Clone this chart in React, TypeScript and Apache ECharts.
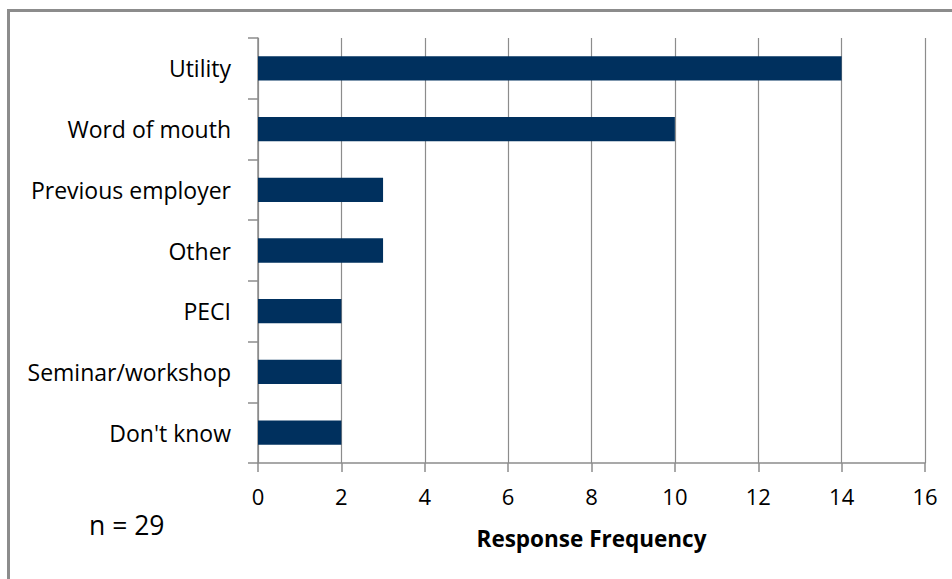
import React, { useEffect, useRef } from "react";
import * as echarts from "echarts";

const categories = ["Utility", "Word of mouth", "Previous employer", "Other", "PECI", "Seminar/workshop", "Don't know"];
const values = [14, 10, 3, 3, 2, 2, 2];
const xTicks = [0, 16, 2];
const xName = "Response Frequency";
const note = "n = 29";

export default function App() {
  const ref = useRef<HTMLDivElement>(null);
  useEffect(() => {
    const chart = echarts.init(ref.current!, null, { renderer: "svg" });
    const font = "Open Sans";
    chart.setOption({
      animation: false,
      backgroundColor: "#ffffff",
      textStyle: { fontFamily: font },
      grid: { left: 258, right: 27, top: 38, bottom: 116 },
      xAxis: {
        type: "value",
        min: xTicks[0],
        max: xTicks[1],
        interval: xTicks[2],
        axisLine: { show: true, lineStyle: { color: "#8c8c8c", width: 1.5 } },
        axisTick: { show: true, length: 9, lineStyle: { color: "#8c8c8c", width: 1.5 } },
        splitLine: { show: true, lineStyle: { color: "#8c8c8c", width: 1.2 } },
        axisLabel: { fontSize: 22, color: "#000", margin: 22, fontFamily: font },
        name: xName,
        nameLocation: "middle",
        nameGap: 64,
        nameTextStyle: { fontSize: 22.5, fontWeight: "bold", color: "#000", fontFamily: font },
      },
      yAxis: {
        type: "category",
        inverse: true,
        data: categories,
        axisLine: { show: true, lineStyle: { color: "#8c8c8c", width: 1.5 } },
        axisTick: { show: true, length: 10, alignWithLabel: false, lineStyle: { color: "#8c8c8c", width: 1.5 } },
        axisLabel: { fontSize: 23, color: "#000", margin: 27, fontFamily: font },
        splitLine: { show: false },
      },
      series: [
        {
          type: "bar",
          data: values,
          barWidth: "40%",
          itemStyle: { color: "#00305e" },
        },
      ],
      graphic: [
        {
          type: "rect",
          shape: { x: 8.5, y: 10.5, width: 1000, height: 700 },
          style: { fill: "none", stroke: "#8c8c8c", lineWidth: 3 },
          silent: true,
        },
        {
          type: "text",
          x: 89,
          y: 511,
          style: { text: note, fontSize: 26.5, fill: "#000", fontFamily: font },
        },
      ],
    });
    return () => chart.dispose();
  }, []);
  return <div ref={ref} style={{ position: "fixed", left: 0, top: 0, width: 952, height: 579 }} />;
}
